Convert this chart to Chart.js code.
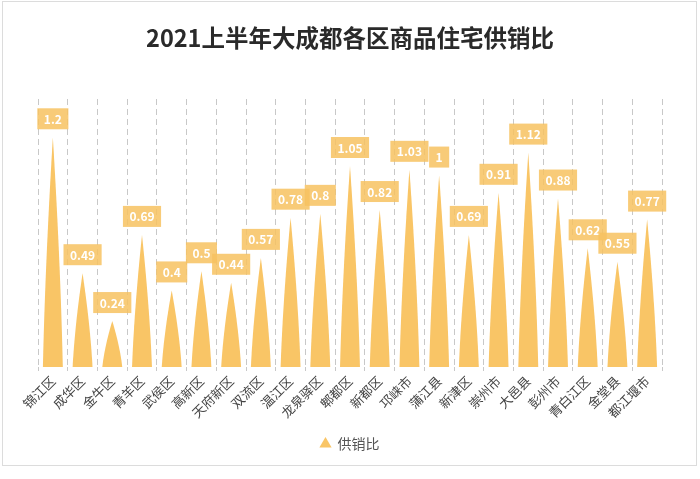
<!DOCTYPE html>
<html><head><meta charset="utf-8">
<script src="https://cdn.jsdelivr.net/npm/chart.js@4/dist/chart.umd.min.js"></script>
<style>html,body{margin:0;padding:0;background:#fff;overflow:hidden}</style>
</head><body>
<canvas id="c" width="700" height="479" style="width:700px;height:479px;display:block"></canvas>
<script>
const titleText = '2021上半年大成都各区商品住宅供销比';
const seriesName = '供销比';
const categories = ['锦江区','成华区','金牛区','青羊区','武侯区','高新区','天府新区','双流区','温江区','龙泉驿区','郫都区','新都区','邛崃市','蒲江县','新津区','崇州市','大邑县','彭州市','青白江区','金堂县','都江堰市'];
const ratioValues = [1.2,0.49,0.24,0.69,0.4,0.5,0.44,0.57,0.78,0.8,1.05,0.82,1.03,1,0.69,0.91,1.12,0.88,0.62,0.55,0.77];
const yMax = 1.4;

const barColor = '#F9C566';
const labelBg = 'rgba(247,194,96,0.85)';
const FONT = '"Noto Sans CJK SC","Noto Sans",sans-serif';

const framePlugin = {
  id: 'frame',
  beforeDraw(chart) {
    const ctx = chart.ctx;
    ctx.save();
    ctx.fillStyle = '#fff';
    ctx.fillRect(0, 0, chart.width, chart.height);
    ctx.strokeStyle = '#dcdcdc';
    ctx.lineWidth = 1;
    ctx.strokeRect(2.5, 1.5, 694, 464);
    ctx.restore();
  }
};

const spikePlugin = {
  id: 'spike',
  beforeDatasetsDraw(chart) {
    const ctx = chart.ctx;
    const meta = chart.getDatasetMeta(0);
    ctx.save();
    meta.data.forEach((bar) => {
      const p = bar.getProps(['x', 'y', 'base', 'width'], true);
      const x = p.x, y = p.y, base = p.base, w = p.width;
      const l = x - w / 2, r = x + w / 2, h = base - y;
      ctx.beginPath();
      ctx.moveTo(l, base);
      ctx.bezierCurveTo(l + w * 0.1, base - h * 0.4, x - w * 0.14, y + h * 0.2, x, y);
      ctx.bezierCurveTo(x + w * 0.14, y + h * 0.2, r - w * 0.1, base - h * 0.4, r, base);
      ctx.closePath();
      ctx.fillStyle = barColor;
      ctx.fill();
    });
    ctx.font = 'bold 12px ' + FONT;
    ctx.textAlign = 'center';
    ctx.textBaseline = 'middle';
    meta.data.forEach((bar, i) => {
      const p = bar.getProps(['x', 'y'], true);
      const txt = String(ratioValues[i]);
      const tw = ctx.measureText(txt).width;
      const bw = tw + 13, bh = 21;
      const by = p.y - 8 - bh;
      ctx.fillStyle = labelBg;
      ctx.fillRect(p.x - bw / 2, by, bw, bh);
      ctx.fillStyle = '#ffffff';
      ctx.fillText(txt, p.x, by + bh / 2 + 0.5);
    });
    ctx.restore();
    return false;
  }
};

new Chart(document.getElementById('c'), {
  type: 'bar',
  data: {
    labels: categories,
    datasets: [{
      label: seriesName,
      data: ratioValues,
      backgroundColor: barColor,
      borderColor: barColor,
      pointStyle: 'triangle',
      barPercentage: 0.67,
      categoryPercentage: 1
    }]
  },
  options: {
    responsive: false,
    devicePixelRatio: 1,
    animation: false,
    layout: { padding: { left: 38, right: 38, top: 0, bottom: 18 } },
    plugins: {
      title: {
        display: true,
        text: titleText,
        color: '#2a2a2a',
        font: { family: FONT, size: 23.5, weight: 'bold' },
        padding: { top: 24, bottom: 46.8 }
      },
      legend: {
        display: true,
        position: 'bottom',
        labels: {
          usePointStyle: true,
          pointStyle: 'triangle',
          boxWidth: 10,
          boxHeight: 10,
          color: '#555',
          font: { family: FONT, size: 14 },
          padding: 7
        }
      },
      tooltip: { enabled: false }
    },
    scales: {
      y: { display: false, min: 0, max: yMax },
      x: {
        grid: { color: '#c8c8c8', lineWidth: 1, tickLength: 4, drawTicks: true, offset: true },
        border: { display: false, dash: [6, 4] },
        ticks: {
          autoSkip: false,
          minRotation: 45,
          maxRotation: 45,
          color: '#444',
          padding: 2,
          font: { family: FONT, size: 13 }
        },
        afterFit(scale) { scale.height = 63; }
      }
    }
  },
  plugins: [framePlugin, spikePlugin]
});
</script>
</body></html>
